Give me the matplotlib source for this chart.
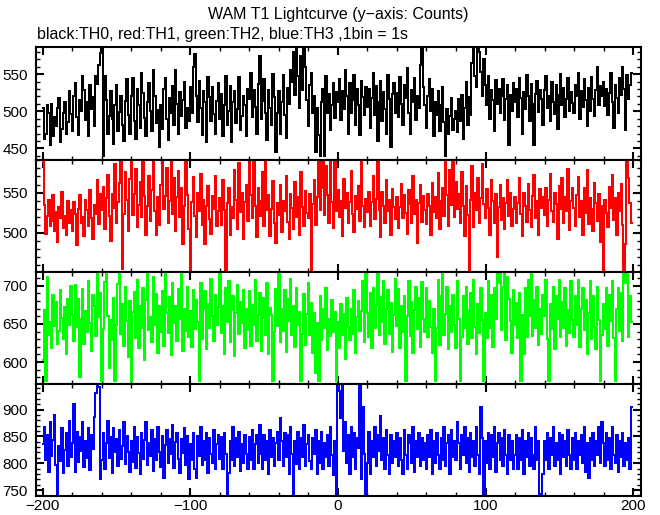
import numpy as np
import matplotlib
matplotlib.use("Agg")
import matplotlib.pyplot as plt
from matplotlib.ticker import MultipleLocator

plt.rcParams['font.family'] = ['Liberation Sans', 'DejaVu Sans']

# time bins (1 bin = 1 s)
time_s = np.arange(-200, 200)

# TH0 counts (black)
th0 = [
    505, 463, 470, 508, 497, 455, 510, 466, 492, 480, 505, 518, 458, 476, 498, 512, 470, 485, 527, 496,
    474, 520, 538, 492, 468, 515, 501, 547, 529, 488, 512, 466, 535, 503, 519, 480, 548, 537, 562, 578,
    586, 440, 548, 515, 470, 493, 527, 489, 456, 508, 536, 474, 499, 521, 482, 460, 514, 543, 495, 470,
    520, 545, 487, 462, 530, 509, 478, 551, 524, 491, 466, 513, 538, 500, 473, 555, 520, 484, 502, 452,
    508, 476, 530, 545, 489, 461, 518, 497, 534, 482, 556, 510, 470, 526, 493, 515, 540, 478, 505, 487,
    532, 498, 560, 577, 520, 485, 541, 504, 468, 527, 512, 458, 546, 519, 487, 533, 496, 470, 514, 538,
    490, 523, 466, 509, 548, 481, 500, 534, 459, 512, 527, 484, 503, 546, 475, 494, 521, 508, 466, 530,
    516, 552, 492, 528, 506, 470, 537, 575, 489, 514, 543, 497, 461, 528, 505, 482, 550, 519, 445, 498,
    527, 470, 512, 549, 495, 464, 531, 510, 556, 540, 580, 522, 585, 548, 504, 575, 529, 586, 560, 515,
    480, 535, 552, 497, 520, 445, 505, 468, 440, 512, 530, 440, 548, 497, 523, 475, 509, 538, 491, 526,
    512, 544, 488, 527, 503, 556, 521, 470, 538, 497, 515, 549, 482, 530, 508, 468, 541, 519, 495, 533,
    506, 530, 477, 518, 552, 495, 534, 460, 512, 541, 487, 526, 503, 470, 549, 516, 452, 523, 538, 498,
    524, 492, 546, 510, 481, 535, 518, 558, 497, 470, 529, 513, 545, 488, 520, 505, 562, 585, 532, 509,
    478, 521, 543, 500, 530, 467, 512, 495, 527, 474, 508, 532, 485, 440, 503, 469, 493, 518, 475, 489,
    500, 472, 516, 487, 522, 463, 505, 540, 482, 519, 495, 565, 586, 548, 532, 586, 580, 553, 520, 570,
    536, 508, 547, 490, 528, 515, 474, 542, 510, 530, 497, 520, 543, 488, 516, 535, 455, 522, 500, 538,
    512, 530, 492, 545, 518, 470, 526, 503, 549, 521, 487, 537, 510, 455, 523, 541, 499, 528, 516, 482,
    529, 548, 505, 520, 487, 540, 513, 496, 535, 476, 522, 550, 508, 531, 492, 517, 545, 500, 526, 511,
    498, 535, 520, 552, 489, 527, 506, 543, 515, 480, 531, 500, 546, 517, 493, 528, 560, 509, 534, 521,
    540, 507, 530, 495, 524, 551, 512, 478, 536, 518, 498, 545, 522, 560, 530, 475, 549, 516, 535, 552,
]

# TH1 counts (red)
th1 = [
    588, 535, 499, 521, 541, 508, 515, 547, 503, 526, 489, 532, 518, 551, 506, 521, 497, 540, 512, 529,
    503, 538, 524, 485, 530, 547, 512, 520, 496, 541, 528, 509, 553, 519, 493, 535, 524, 566, 511, 548,
    529, 557, 505, 543, 572, 521, 490, 548, 531, 585, 512, 538, 562, 591, 455, 524, 576, 541, 503, 567,
    591, 522, 548, 579, 507, 535, 563, 520, 589, 546, 498, 534, 571, 515, 553, 590, 527, 497, 545, 510,
    560, 591, 530, 546, 581, 512, 539, 591, 524, 568, 503, 545, 577, 520, 556, 486, 533, 590, 547, 505,
    452, 538, 569, 521, 495, 550, 527, 573, 510, 541, 486, 533, 558, 517, 499, 546, 530, 571, 508, 527,
    543, 510, 566, 528, 452, 537, 556, 498, 532, 519, 578, 541, 505, 587, 526, 550, 493, 538, 560, 515,
    591, 547, 518, 589, 533, 495, 556, 521, 540, 575, 508, 591, 529, 547, 496, 530, 564, 512, 488, 537,
    522, 559, 501, 540, 527, 570, 514, 493, 548, 531, 505, 563, 520, 544, 498, 576, 532, 509, 552, 525,
    518, 548, 452, 536, 565, 510, 545, 591, 529, 556, 591, 522, 583, 547, 512, 590, 538, 506, 591, 527,
    553, 520, 540, 496, 567, 531, 549, 512, 538, 577, 523, 501, 546, 530, 558, 515, 591, 533, 507, 542,
    526, 551, 509, 538, 570, 517, 542, 591, 528, 495, 551, 534, 512, 566, 527, 541, 498, 555, 532, 517,
    544, 506, 532, 561, 518, 547, 525, 499, 553, 536, 512, 570, 523, 541, 488, 537, 559, 514, 546, 528,
    511, 548, 533, 497, 562, 526, 545, 518, 574, 505, 539, 556, 521, 591, 547, 509, 578, 535, 591, 520,
    563, 530, 548, 512, 575, 534, 496, 558, 522, 452, 541, 583, 507, 549, 528, 568, 512, 543, 585, 536,
    519, 555, 531, 497, 566, 540, 512, 548, 470, 532, 559, 516, 543, 505, 537, 566, 521, 549, 508, 530,
    545, 512, 537, 568, 524, 496, 550, 533, 514, 561, 529, 507, 546, 572, 518, 539, 498, 555, 531, 545,
    522, 556, 508, 541, 573, 527, 514, 549, 536, 493, 558, 530, 568, 512, 545, 527, 579, 504, 540, 556,
    531, 508, 547, 569, 520, 540, 497, 556, 525, 578, 511, 543, 530, 503, 562, 537, 515, 548, 489, 533,
    452, 541, 525, 507, 557, 531, 572, 516, 543, 498, 549, 527, 561, 510, 452, 486, 591, 568, 537, 512,
]

# TH2 counts (green)
th2 = [
    603, 668, 575, 712, 636, 652, 619, 688, 647, 679, 624, 641, 695, 658, 630, 672, 611, 683, 649, 700,
    662, 628, 701, 646, 683, 580, 657, 696, 624, 667, 639, 706, 651, 614, 688, 673, 634, 718, 659, 690,
    575, 643, 705, 718, 661, 592, 655, 629, 684, 575, 648, 702, 718, 637, 676, 621, 699, 654, 607, 680,
    575, 666, 692, 631, 708, 618, 674, 645, 697, 603, 681, 718, 642, 659, 626, 712, 648, 689, 612, 673,
    640, 693, 621, 718, 664, 638, 685, 609, 703, 651, 673, 627, 696, 657, 718, 614, 669, 641, 699, 633,
    667, 620, 695, 643, 681, 652, 575, 704, 630, 669, 693, 617, 676, 645, 709, 661, 628, 688, 649, 672,
    718, 638, 674, 611, 697, 653, 706, 626, 668, 687, 608, 664, 701, 637, 679, 651, 694, 619, 670, 642,
    693, 621, 675, 649, 708, 627, 662, 690, 615, 658, 684, 636, 704, 610, 671, 662, 575, 639, 696, 647,
    718, 626, 670, 641, 695, 613, 683, 654, 709, 635, 674, 620, 697, 648, 666, 575, 637, 689, 622, 663,
    703, 636, 678, 612, 664, 586, 651, 575, 686, 629, 669, 644, 697, 616, 657, 634, 681, 640, 665, 575,
    652, 618, 676, 635, 663, 604, 684, 646, 629, 670, 637, 694, 612, 659, 680, 641, 667, 706, 626, 718,
    664, 633, 690, 619, 697, 645, 675, 718, 636, 685, 652, 706, 624, 669, 695, 637, 678, 613, 662, 709,
    647, 696, 618, 673, 639, 687, 575, 661, 706, 634, 679, 612, 668, 698, 643, 684, 620, 705, 657, 640,
    697, 633, 680, 646, 612, 669, 575, 644, 707, 623, 686, 718, 635, 663, 698, 617, 674, 640, 688, 649,
    619, 706, 657, 575, 633, 687, 645, 699, 624, 668, 690, 632, 708, 646, 611, 676, 638, 697, 655, 575,
    664, 632, 706, 645, 688, 620, 697, 657, 718, 704, 718, 642, 699, 718, 629, 711, 683, 654, 612, 695,
    648, 677, 631, 690, 575, 662, 611, 697, 633, 707, 660, 718, 634, 681, 644, 698, 622, 669, 637, 688,
    661, 708, 630, 575, 676, 643, 698, 617, 687, 656, 707, 633, 679, 644, 697, 621, 668, 638, 706, 655,
    633, 687, 648, 708, 620, 670, 697, 642, 681, 611, 664, 706, 630, 687, 646, 617, 699, 655, 575, 636,
    676, 643, 697, 621, 688, 654, 706, 632, 575, 669, 697, 641, 690, 627, 718, 703, 718, 633, 686, 652,
]

# TH3 counts (blue)
th3 = [
    835, 868, 806, 852, 784, 876, 813, 844, 889, 797, 742, 832, 805, 865, 781, 824, 857, 795, 879, 811,
    838, 910, 783, 859, 803, 848, 822, 876, 793, 842, 809, 866, 788, 853, 827, 887, 930, 948, 942, 770,
    806, 857, 790, 838, 878, 809, 849, 781, 866, 820, 845, 794, 861, 808, 833, 877, 798, 850, 820, 783,
    841, 802, 868, 791, 849, 819, 779, 857, 808, 844, 877, 796, 838, 814, 862, 786, 846, 806, 867, 821,
    793, 851, 772, 834, 861, 801, 845, 818, 872, 792, 839, 856, 807, 781, 846, 819, 866, 797, 851, 771,
    836, 806, 857, 790, 772, 851, 813, 867, 797, 841, 806, 857, 781, 847, 818, 800, 862, 789, 836, 852,
    807, 848, 790, 857, 818, 739, 781, 842, 806, 868, 795, 847, 812, 858, 786, 836, 801, 852, 817, 789,
    848, 806, 862, 789, 836, 853, 800, 872, 817, 790, 852, 806, 841, 780, 862, 812, 847, 795, 837, 858,
    806, 885, 841, 794, 857, 811, 852, 779, 868, 817, 740, 842, 799, 858, 789, 847, 811, 872, 795, 836,
    853, 805, 789, 847, 817, 862, 779, 842, 800, 858, 789, 837, 811, 852, 794, 868, 816, 778, 842, 739,
    948, 935, 884, 948, 823, 877, 801, 852, 779, 867, 811, 857, 789, 847, 829, 948, 771, 905, 817, 739,
    801, 858, 779, 842, 811, 867, 795, 852, 822, 888, 806, 847, 789, 862, 816, 779, 852, 800, 842, 811,
    857, 795, 847, 806, 779, 862, 816, 789, 852, 838, 800, 867, 784, 842, 811, 857, 795, 847, 806, 837,
    789, 852, 811, 862, 779, 842, 800, 857, 816, 789, 847, 806, 867, 795, 837, 852, 779, 862, 811, 842,
    806, 877, 837, 789, 852, 816, 867, 800, 847, 784, 857, 811, 842, 795, 867, 816, 779, 905, 847, 740,
    842, 800, 857, 789, 852, 811, 867, 784, 837, 857, 806, 847, 795, 862, 816, 779, 852, 806, 842, 789,
    816, 852, 789, 847, 806, 862, 779, 842, 811, 857, 795, 847, 816, 789, 867, 806, 842, 742, 740, 779,
    842, 806, 857, 789, 847, 816, 867, 795, 837, 806, 857, 779, 852, 811, 842, 795, 862, 816, 789, 847,
    806, 857, 789, 842, 816, 852, 800, 867, 784, 837, 772, 847, 806, 857, 795, 842, 816, 867, 800, 877,
    837, 795, 857, 806, 847, 789, 867, 816, 800, 852, 784, 842, 811, 857, 795, 837, 806, 847, 789, 905,
]

series = [th0, th1, th2, th3]
colors = ['black', 'red', '#00ff00', 'blue']
ylims = [(435, 586), (452, 591), (571.5, 718.5), (739, 948)]

fig, axes = plt.subplots(4, 1, figsize=(6.6, 5.15), dpi=100, sharex=True)
fig.subplots_adjust(left=0.0545, right=0.971, top=0.908, bottom=0.037, hspace=0)

for ax, counts, col, lim in zip(axes, series, colors, ylims):
    ax.step(time_s, counts, where='mid', color=col, lw=1.1, antialiased=False)
    ax.set_ylim(lim)
    ax.set_xlim(-204.7, 205.3)
    ax.xaxis.set_major_locator(MultipleLocator(100))
    ax.xaxis.set_minor_locator(MultipleLocator(20))
    ax.yaxis.set_major_locator(MultipleLocator(50))
    ax.yaxis.set_minor_locator(MultipleLocator(10))
    ax.tick_params(which='both', direction='in', top=True, right=True, labelsize=11, pad=6)
    ax.tick_params(which='major', length=6, width=1.5)
    ax.tick_params(which='minor', length=3, width=1)
    ax.tick_params(axis='x', pad=2)
    for sp in ax.spines.values():
        sp.set_linewidth(1.5)

axes[-1].set_xticks([-200, -100, 0, 100, 200])

fig.text(0.512, 1 - 14 / 515, 'WAM T1 Lightcurve (y\u2212axis: Counts)', ha='center', va='center', fontsize=11.5)
fig.text(37 / 660, 1 - 35 / 515, 'black:TH0, red:TH1, green:TH2, blue:TH3 ,1bin = 1s',
         ha='left', va='center', fontsize=11.5)

fig.savefig('out.png', dpi=100)
